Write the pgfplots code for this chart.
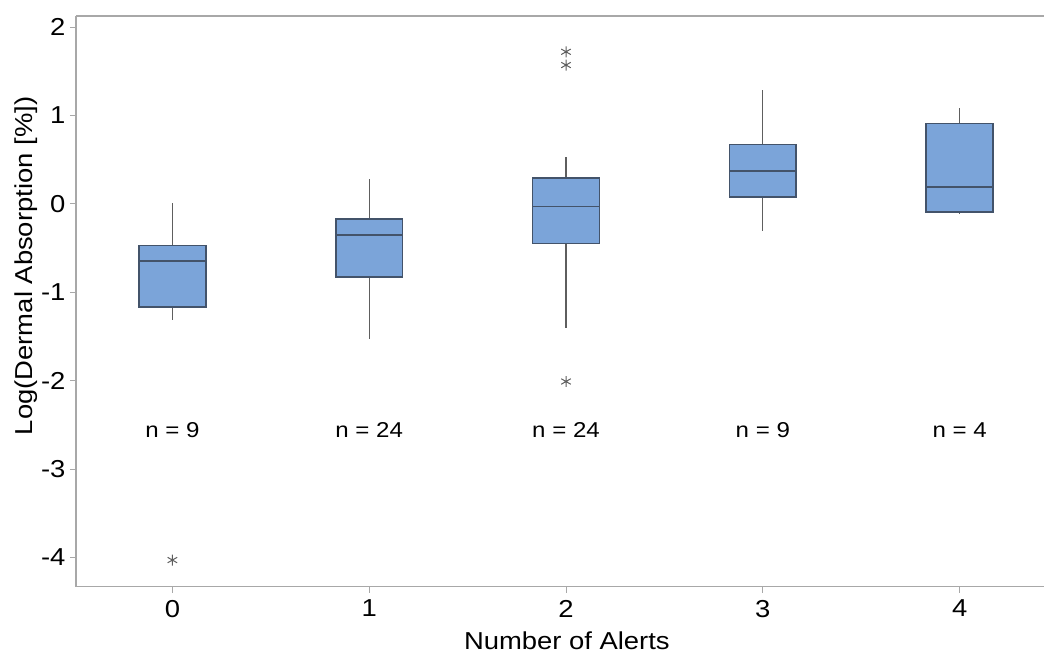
\documentclass[border=0pt]{standalone}
\usepackage{fontspec}
\setmainfont{Liberation Sans}[FakeStretch=1.12]
\usepackage{pgfplots}
\pgfplotsset{compat=1.18}
\usepgfplotslibrary{statistics}
\definecolor{boxfill}{HTML}{7BA4D9}
\definecolor{boxedge}{HTML}{43536A}
\definecolor{axgray}{HTML}{A8A8A8}
\definecolor{whisk}{HTML}{5E5E5E}
\begin{document}
\begin{tikzpicture}
\begin{axis}[
  scale only axis, width=969pt, height=571pt,
  xmin=-0.49, xmax=4.43, ymin=-4.33, ymax=2.125,
  axis x line*=bottom, axis y line*=left,
  axis line style={axgray, line width=1.5pt},
  xtick={0,1,2,3,4}, xticklabels={0,1,2,3,4},
  ytick={-4,-3,-2,-1,0,1,2}, yticklabels={-4,-3,-2,-1,0,1,2},
  tick style={axgray, line width=1pt}, major tick length=6pt, tick align=outside,
  ticklabel style={font=\fontsize{24.5}{28}\selectfont, black},
  xticklabel style={anchor=north, yshift=-4pt},
  yticklabel style={anchor=east, xshift=-1pt},
  xlabel={Number of Alerts}, ylabel={Log(Dermal Absorption [\%])},
  label style={font=\fontsize{24.5}{28}\selectfont, black},
  xlabel style={at={(axis description cs:0.507,0)}, anchor=base, yshift=-63pt},
  ylabel style={at={(axis description cs:0,0.562)}, anchor=base, yshift=43pt},
  boxplot/draw direction=y,
  boxplot/box extend=0.34, boxplot/whisker extend=0,
  boxplot/every whisker/.style={whisk, line width=1.3pt},
  boxplot/every median/.style={boxedge, line width=1.6pt},
  boxplot/every box/.style={draw=boxedge, fill=boxfill, line width=1.6pt},
  clip=false,
]
\addplot[boxplot prepared={draw position=0, lower whisker=-1.31, lower quartile=-1.17, median=-0.65, upper quartile=-0.47, upper whisker=0.015}] coordinates {};
\addplot[boxplot prepared={draw position=1, lower whisker=-1.53, lower quartile=-0.83, median=-0.35, upper quartile=-0.17, upper whisker=0.28}] coordinates {};
\addplot[boxplot prepared={draw position=2, lower whisker=-1.40, lower quartile=-0.45, median=-0.03, upper quartile=0.29, upper whisker=0.53}] coordinates {};
\addplot[boxplot prepared={draw position=3, lower whisker=-0.31, lower quartile=0.08, median=0.37, upper quartile=0.67, upper whisker=1.29}] coordinates {};
\addplot[boxplot prepared={draw position=4, lower whisker=-0.11, lower quartile=-0.09, median=0.19, upper quartile=0.91, upper whisker=1.08}] coordinates {};
\addplot[only marks, mark=asterisk, mark size=5.5pt, whisk, line width=1pt] coordinates {(0,-4.03) (2,1.72) (2,1.57) (2,-2.01)};
\draw[axgray, line width=1.5pt] (rel axis cs:0,1) -- (rel axis cs:1,1);
\node[font=\fontsize{21.5}{24}\selectfont] at (axis cs:0,-2.56) {n = 9};
\node[font=\fontsize{21.5}{24}\selectfont] at (axis cs:1,-2.56) {n = 24};
\node[font=\fontsize{21.5}{24}\selectfont] at (axis cs:2,-2.56) {n = 24};
\node[font=\fontsize{21.5}{24}\selectfont] at (axis cs:3,-2.56) {n = 9};
\node[font=\fontsize{21.5}{24}\selectfont] at (axis cs:4,-2.56) {n = 4};
\coordinate (ll) at (rel axis cs:0,0);
\coordinate (ur) at (rel axis cs:1,1);
\end{axis}
\path[use as bounding box] ([shift={(-76pt,-69pt)}]ll) rectangle ([shift={(0pt,16pt)}]ur);
\end{tikzpicture}
\end{document}
